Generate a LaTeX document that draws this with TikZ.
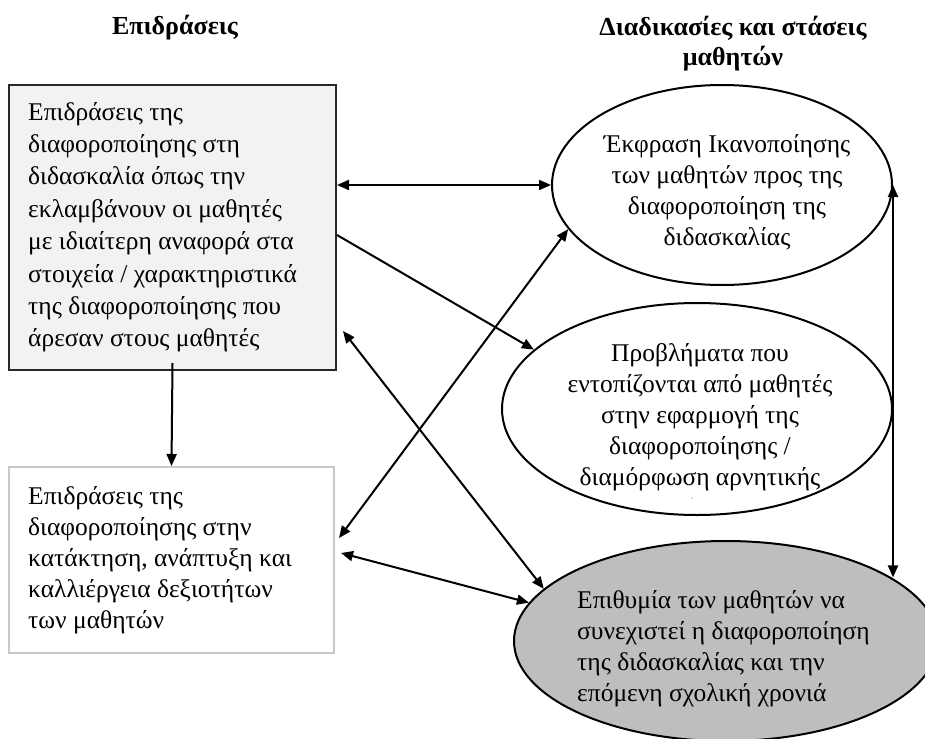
\documentclass[tikz,border=0pt]{standalone}
\usepackage{fontspec}
\setmainfont{Liberation Serif}
\usetikzlibrary{shapes.geometric,arrows.meta}
\definecolor{boxfill}{RGB}{242,242,242}
\definecolor{boxline}{RGB}{40,40,40}
\definecolor{lightline}{RGB}{200,200,200}
\definecolor{ellfill}{RGB}{190,190,190}
\begin{document}
\begin{tikzpicture}[x=1pt,y=-1pt,
  bodytext/.style={font=\fontsize{25.5}{31}\selectfont, inner sep=0pt},
  titletext/.style={font=\fontsize{26}{30}\selectfont\bfseries, inner sep=0pt, align=center},
  arr/.style={line width=2pt, -{Triangle[length=12pt,width=10pt]}},
  dbl/.style={line width=2pt, {Triangle[length=12pt,width=10pt]}-{Triangle[length=12pt,width=10pt]}},
  ell/.style={ellipse, draw=black, line width=2pt, inner sep=0pt},
  rbox/.style={rectangle, line width=2pt, inner sep=0pt}]
\path[use as bounding box] (0,0) rectangle (925,738);
\clip (0,0) rectangle (925,738);

% titles
\node[titletext, anchor=base] (h1) at (175,35) {Επιδράσεις};
\node[titletext, anchor=north] (h2) at (733,14) {\strut Διαδικασίες και στάσεις\\ μαθητών};

% boxes
\node[rbox, draw=boxline, fill=boxfill, minimum width=327pt, minimum height=285pt] (box1) at (172.5,227.5) {};
\node[rbox, draw=lightline, fill=white, minimum width=325pt, minimum height=186pt] (box2) at (171.5,560) {};

% ellipses
\node[ell, fill=white, minimum width=340pt, minimum height=200pt] (e1) at (722,185) {};
\node[ell, fill=white, minimum width=390pt, minimum height=212pt] (e2) at (697,409) {};
\node[ell, fill=ellfill, minimum width=424pt, minimum height=200pt] (e3) at (726,641) {};

% texts
\node[bodytext, font=\fontsize{25.5}{32.4}\selectfont, anchor=north west, align=left] (t1) at (28,97.3)
 {\strut Επιδράσεις της\\ διαφοροποίησης στη\\ διδασκαλία όπως την\\ εκλαμβάνουν οι μαθητές\\ με ιδιαίτερη αναφορά στα\\ στοιχεία / χαρακτηριστικά\\ της διαφοροποίησης που\\ άρεσαν στους μαθητές};
\node[bodytext, anchor=north west, align=left] (t2) at (28,482.3)
 {\strut Επιδράσεις της\\ διαφοροποίησης στην\\ κατάκτηση, ανάπτυξη και\\ καλλιέργεια δεξιοτήτων\\ των μαθητών};
\node[bodytext, anchor=north, align=center] (t3) at (727,130.3)
 {\strut Έκφραση Ικανοποίησης\\ των μαθητών προς της\\ διαφοροποίηση της\\ διδασκαλίας};
\node[bodytext, anchor=north, align=center] (t4) at (700,339.3)
 {\strut Προβλήματα που\\ εντοπίζονται από μαθητές\\ στην εφαρμογή της\\ διαφοροποίησης /\\ διαμόρφωση αρνητικής};
\node[inner sep=0pt, text=gray, font=\fontsize{8}{8}\selectfont] (t4b) at (692,499) {-};
\node[bodytext, anchor=north west, align=left] (t5) at (577,586.3)
 {\strut Επιθυμία των μαθητών να\\ συνεχιστεί η διαφοροποίηση\\ της διδασκαλίας και την\\ επόμενη σχολική χρονιά};

% connectors
\draw[dbl] (box1.east |- e1.west) -- (e1.west);
\draw[arr] ([yshift=-7.5pt]box1.east) -- (e2.160);
\draw[arr] ([yshift=8pt]box1.south) -- (box2.north);
\draw[dbl] ([xshift=6pt,yshift=40pt]box1.south east) -- (e3.164.6);
\draw[dbl] (e1.196.5) -- ([xshift=4pt,yshift=22pt]box2.east);
\draw[dbl] ([xshift=6pt,yshift=7pt]box2.east) -- (e3.169.4);
\draw[dbl] (e1.east) -- (e1.east |- e3.21);
\end{tikzpicture}
\end{document}
